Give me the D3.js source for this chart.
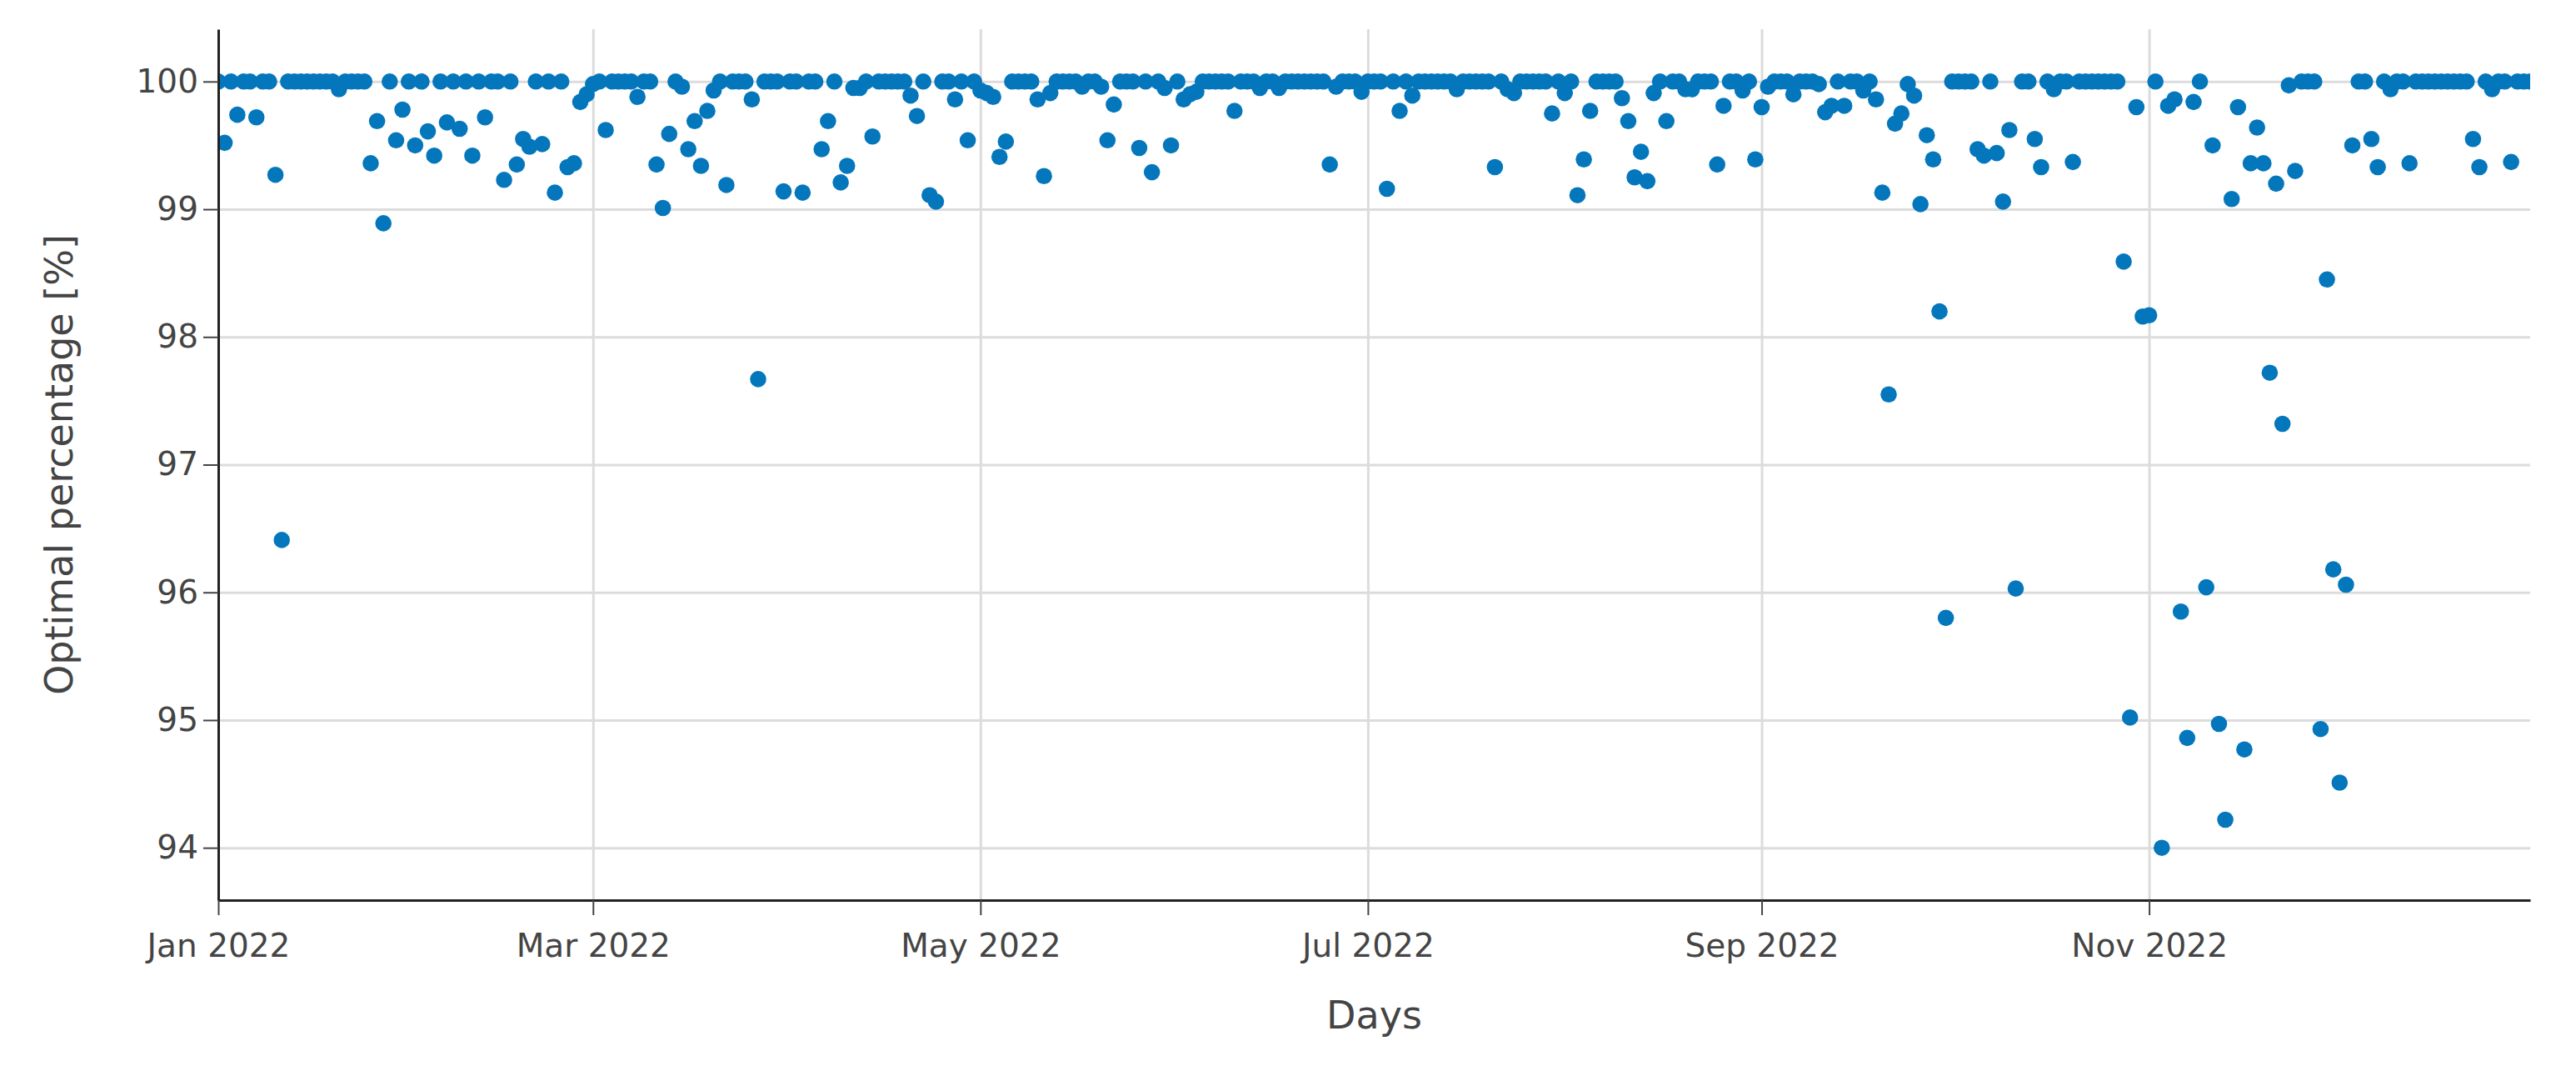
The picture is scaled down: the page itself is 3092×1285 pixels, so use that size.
<!DOCTYPE html>
<meta charset="utf-8">
<html>

<head>
    <script src="https://d3js.org/d3.v7.min.js"></script>
    <title>Optimal percentage per day</title>
    <style>
        body { margin: 0; background: #fff; }
        .tick text { font-family: "DejaVu Sans", Verdana, sans-serif; fill: #444; }
    </style>
</head>

<body>
    <div id="scatter"></div>

    <script>

        // daily optimal percentage, 2022, one array per month
        var jan = [100, 99.52, 100, 99.74, 100, 100, 99.72, 100, 100, 99.27, 96.41, 100, 100, 100, 100, 100,
            100, 100, 100, 99.94, 100, 100, 100, 100, 99.36, 99.69, 98.89, 100, 99.54, 99.78, 100];
        var feb = [99.50, 100, 99.61, 99.42, 100, 99.68, 100, 99.63, 100, 99.42, 100, 99.72, 100, 100,
            99.23, 100, 99.35, 99.55, 99.49, 100, 99.51, 100, 99.13, 100, 99.33, 99.36, 99.84, 99.90];
        var mar = [99.98, 100, 99.62, 100, 100, 100, 100, 99.88, 100, 100, 99.35, 99.01, 99.59, 100, 99.96,
            99.47, 99.69, 99.34, 99.77, 99.93, 100, 99.19, 100, 100, 100, 99.86, 97.67, 100, 100, 100, 99.14];
        var apr = [100, 100, 99.13, 100, 100, 99.47, 99.69, 100, 99.21, 99.34, 99.95, 99.95, 100, 99.57, 100,
            100, 100, 100, 100, 99.89, 99.73, 100, 99.11, 99.06, 100, 100, 99.86, 100, 99.54, 100];
        var may = [99.93, 99.91, 99.88, 99.41, 99.53, 100, 100, 100, 100, 99.86, 99.26, 99.91, 100, 100, 100,
            100, 99.96, 100, 100, 99.96, 99.54, 99.82, 100, 100, 100, 99.48, 100, 99.29, 100, 99.95, 99.50];
        var jun = [100, 99.86, 99.90, 99.92, 100, 100, 100, 100, 100, 99.77, 100, 100, 100, 99.95, 100,
            100, 99.95, 100, 100, 100, 100, 100, 100, 100, 99.35, 99.96, 100, 100, 100, 99.92];
        var jul = [100, 100, 100, 99.16, 100, 99.77, 100, 99.89, 100, 100, 100, 100, 100, 100, 99.94, 100,
            100, 100, 100, 100, 99.33, 100, 99.94, 99.91, 100, 100, 100, 100, 100, 99.75, 100];
        var aug = [99.91, 100, 99.11, 99.39, 99.77, 100, 100, 100, 100, 99.87, 99.69, 99.25, 99.45, 99.22,
            99.91, 100, 99.69, 100, 100, 99.94, 99.94, 100, 100, 100, 99.35, 99.81, 100, 100, 99.93, 100, 99.39];
        var sep = [99.80, 99.96, 100, 100, 100, 99.90, 100, 100, 100, 99.98, 99.76, 99.81, 100, 99.81, 100,
            100, 99.93, 100, 99.86, 99.13, 97.55, 99.67, 99.75, 99.98, 99.89, 99.04, 99.58, 99.39, 98.20, 95.80];
        var oct = [100, 100, 100, 100, 99.47, 99.42, 100, 99.44, 99.06, 99.62, 96.03, 100, 100, 99.55, 99.33,
            100, 99.94, 100, 100, 99.37, 100, 100, 100, 100, 100, 100, 100, 98.59, 95.02, 99.80, 98.16];
        var nov = [98.17, 100, 94.00, 99.81, 99.86, 95.85, 94.86, 99.84, 100, 96.04, 99.50, 94.97, 94.22,
            99.08, 99.80, 94.77, 99.36, 99.64, 99.36, 97.72, 99.20, 97.32, 99.97, 99.30, 100, 100, 100,
            94.93, 98.45, 96.18];
        var dec = [94.51, 96.06, 99.50, 100, 100, 99.55, 99.33, 100, 99.94, 100, 100, 99.36, 100, 100, 100,
            100, 100, 100, 100, 100, 100, 99.55, 99.33, 100, 99.94, 100, 100, 99.37, 100, 100, 100];

        var months = [jan, feb, mar, apr, may, jun, jul, aug, sep, oct, nov, dec];
        var xTicks = ["2022-01-01", "2022-03-01", "2022-05-01", "2022-07-01", "2022-09-01", "2022-11-01"];
        var yTicks = [94, 95, 96, 97, 98, 99, 100];

        // one row per day
        var data = [];
        months.forEach(function (vals, m) {
            vals.forEach(function (v, i) {
                data.push({ day: new Date(Date.UTC(2022, m, i + 1)), value: v });
            });
        });

        // set the dimensions and margins of the graph
        var margin = { top: 35, right: 55, bottom: 205, left: 262 };
        var width = 3092 - margin.left - margin.right;
        var height = 1285 - margin.top - margin.bottom;

        var svg = d3.select("#scatter")
            .append("svg")
            .attr("width", width + margin.left + margin.right)
            .attr("height", height + margin.top + margin.bottom)
            .append("g")
            .attr("transform", "translate(" + margin.left + "," + margin.top + ")");

        var x = d3.scaleUtc()
            .domain([new Date(Date.UTC(2022, 0, 1)), new Date(Date.UTC(2022, 11, 31))])
            .range([0, width]);

        var y = d3.scaleLinear()
            .domain([93.59, 100.41])
            .range([height, 0]);

        var tickDates = xTicks.map(function (s) { return new Date(s + "T00:00:00Z"); });

        // grid
        svg.append("g")
            .attr("class", "grid")
            .call(d3.axisLeft(y).tickValues(yTicks).tickSize(-width).tickFormat(""))
            .call(function (g) { g.select(".domain").remove(); })
            .selectAll("line")
            .attr("stroke", "#dcdcdc")
            .attr("stroke-width", 3);

        svg.append("g")
            .attr("class", "grid")
            .attr("transform", "translate(0," + height + ")")
            .call(d3.axisBottom(x).tickValues(tickDates.slice(1)).tickSize(-height).tickFormat(""))
            .call(function (g) { g.select(".domain").remove(); })
            .selectAll("line")
            .attr("stroke", "#dcdcdc")
            .attr("stroke-width", 3);

        // points, clipped to the plot area
        svg.append("clipPath")
            .attr("id", "plot-clip")
            .append("rect")
            .attr("width", width)
            .attr("height", height);

        svg.append("g")
            .attr("clip-path", "url(#plot-clip)")
            .selectAll("circle")
            .data(data)
            .enter()
            .append("circle")
            .attr("cx", function (d) { return x(d.day); })
            .attr("cy", function (d) { return y(d.value); })
            .attr("r", 9.8)
            .attr("fill", "#0477bc");

        // axes
        var xAxis = svg.append("g")
            .attr("transform", "translate(0," + height + ")")
            .call(d3.axisBottom(x)
                .tickValues(tickDates)
                .tickFormat(d3.utcFormat("%b %Y"))
                .tickSize(18)
                .tickSizeOuter(0)
                .tickPadding(22));

        var yAxis = svg.append("g")
            .call(d3.axisLeft(y)
                .tickValues(yTicks)
                .tickFormat(d3.format("d"))
                .tickSize(18)
                .tickSizeOuter(0)
                .tickPadding(6));

        [xAxis, yAxis].forEach(function (a) {
            a.select(".domain").attr("stroke", "#222").attr("stroke-width", 3);
            a.selectAll(".tick line").attr("stroke", "#444").attr("stroke-width", 2);
            a.selectAll(".tick text").style("font-size", "39px");
        });

        // axis titles
        svg.append("text")
            .attr("x", width / 2)
            .attr("y", 1234 - margin.top)
            .attr("text-anchor", "middle")
            .style("font-family", "DejaVu Sans, Verdana, sans-serif")
            .style("font-size", "46px")
            .style("fill", "#444")
            .text("Days");

        svg.append("text")
            .attr("transform", "translate(" + (87 - margin.left) + "," + (height / 2) + ") rotate(-90)")
            .attr("text-anchor", "middle")
            .style("font-family", "DejaVu Sans, Verdana, sans-serif")
            .style("font-size", "46px")
            .style("fill", "#444")
            .text("Optimal percentage [%]");

    </script>

</body>

</html>
